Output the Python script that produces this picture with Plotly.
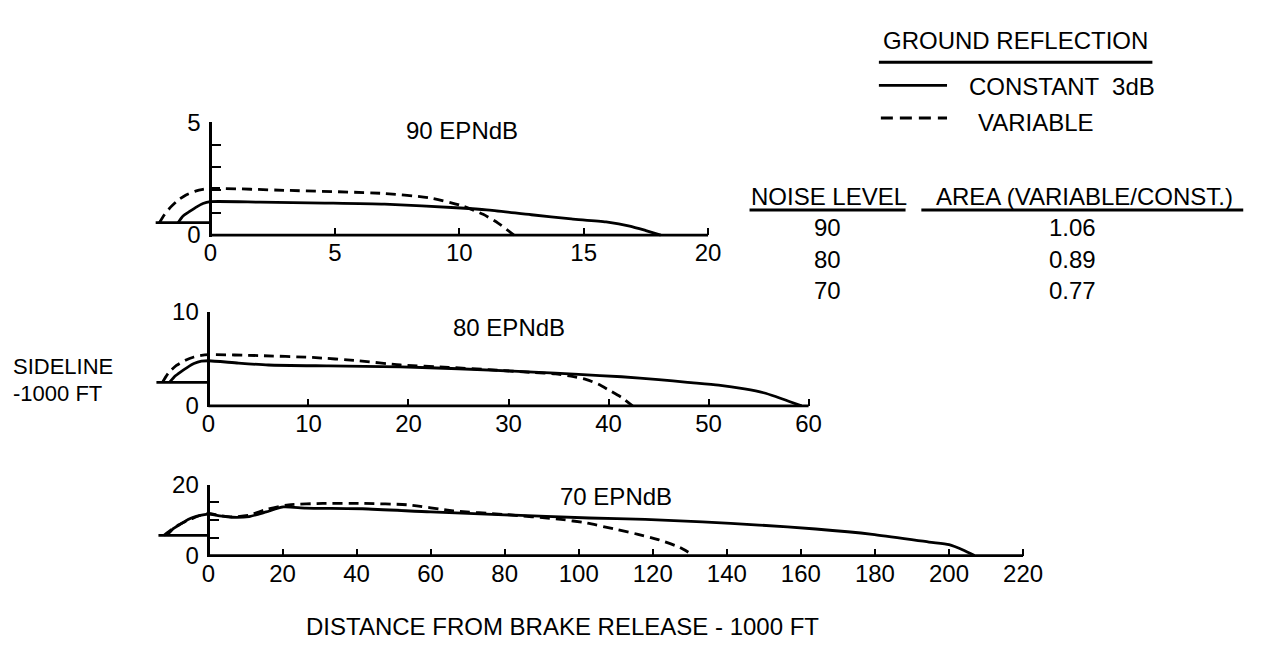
import plotly.graph_objects as go

W, H = 1270, 646
FONT = "Liberation Sans"

# ---------------- data (1000 ft) ----------------
# 90 EPNdB
p90_const_x = [-1.3, -1.1, -0.83, -0.55, -0.3, 0, 2, 4.6, 7, 10.05, 11.1, 12.9, 14.5, 15.9, 16.85, 17.5, 18.1]
p90_const_y = [0.55, 0.85, 1.05, 1.25, 1.4, 1.48, 1.46, 1.42, 1.37, 1.2, 1.12, 0.9, 0.72, 0.58, 0.40, 0.2, 0]
p90_var_x = [-2.05, -1.85, -1.59, -1.3, -0.98, -0.6, -0.3, 0, 3.1, 6.9, 8.8, 10.05, 10.96, 11.56, 12.2]
p90_var_y = [0.55, 0.9, 1.25, 1.55, 1.78, 1.95, 2.03, 2.07, 1.98, 1.85, 1.65, 1.32, 0.92, 0.53, 0]
p90_base_x = [-2.2, 0]
p90_base_y = [0.55, 0.55]

# 80 EPNdB
p80_const_x = [-3.9, -3.3, -2.8, -2.1, -1.45, -0.7, 0, 3, 6, 12, 19.2, 25, 32.5, 37, 41.3, 45, 47.9, 51, 53.6, 55.5, 56.7, 58, 59.3]
p80_const_y = [2.5, 3.2, 3.6, 4.1, 4.5, 4.75, 4.8, 4.55, 4.35, 4.25, 4.15, 3.95, 3.6, 3.35, 3.1, 2.8, 2.5, 2.2, 1.8, 1.4, 1.0, 0.5, 0]
p80_var_x = [-4.6, -4.0, -3.2, -2.3, -1.45, -0.7, 0, 5, 10.4, 15, 19.2, 24, 28, 32.5, 34.7, 36.5, 37.8, 39, 40, 41.3, 42.4]
p80_var_y = [2.5, 3.5, 4.3, 4.85, 5.2, 5.38, 5.45, 5.35, 5.15, 4.8, 4.35, 4.1, 3.85, 3.55, 3.4, 3.1, 2.8, 2.3, 1.7, 0.9, 0]
p80_base_x = [-5.2, 0]
p80_base_y = [2.5, 2.5]

# 70 EPNdB
p70_const_x = [-11.2, -9.5, -7.3, -5.5, -3.5, -1.5, 0, 3, 6.4, 11, 15.6, 20.2, 26.3, 41.6, 60, 79.9, 102.8, 118, 133.4, 148.7, 164, 179.3, 194.6, 200, 203.8, 206.9]
p70_const_y = [5.7, 7.6, 9.0, 10.2, 11.0, 11.5, 11.7, 11.2, 10.8, 11.0, 12.3, 13.7, 13.4, 13.2, 12.3, 11.5, 10.6, 10.2, 9.5, 8.6, 7.5, 6.0, 3.8, 3.1, 1.6, 0]
p70_var_x = [-12, -10, -8.1, -6, -4.3, -2, 0, 3, 6.4, 11, 15.6, 21.7, 30.9, 41.6, 53.9, 66.1, 79.9, 95.2, 102, 110.5, 116, 121.2, 127.3, 131.1]
p70_var_y = [5.7, 7.3, 8.6, 9.7, 10.5, 11.4, 11.9, 11.3, 10.9, 11.4, 13.0, 14.3, 14.7, 14.7, 14.3, 12.6, 11.6, 10.2, 9.2, 7.3, 6.0, 4.6, 2.3, 0]
p70_base_x = [-13.5, 0]
p70_base_y = [5.7, 5.7]

# ticks
p90_xticks = [0, 5, 10, 15, 20]
p90_yticks = [0, 1, 2, 3, 4, 5]
p90_ylabels = ["0", "", "", "", "", "5"]
p80_xticks = [0, 10, 20, 30, 40, 50, 60]
p80_yticks = [0, 10]
p80_ylabels = ["0", "10"]
p70_xticks = [0, 20, 40, 60, 80, 100, 120, 140, 160, 180, 200, 220]
p70_yticks = [0, 5, 10, 15, 20]
p70_ylabels = ["0", "", "", "", "20"]

panel_titles = ["90 EPNdB", "80 EPNdB", "70 EPNdB"]
noise_levels = ["90", "80", "70"]
area_ratios = ["1.06", "0.89", "0.77"]

# ---------------- layout geometry (pixels) ----------------
def fx(p):
    return p / W

def fy(p):
    return 1 - p / H

panels = [
    dict(x0=205, xs=25.2, xr=[-2.6, 20.4], xend=20, y0=222, ys=23.5, yr=[-0.08, 5.0],
         xt=p90_xticks, yt=p90_yticks, yl=p90_ylabels,
         c=(p90_const_x, p90_const_y), v=(p90_var_x, p90_var_y), b=(p90_base_x, p90_base_y),
         title=panel_titles[0], tpos=(460, 113)),
    dict(x0=203, xs=10.13, xr=[-5.6, 60.4], xend=60, y0=400, ys=9.8, yr=[-0.15, 10.0],
         xt=p80_xticks, yt=p80_yticks, yl=p80_ylabels,
         c=(p80_const_x, p80_const_y), v=(p80_var_x, p80_var_y), b=(p80_base_x, p80_base_y),
         title=panel_titles[1], tpos=(507, 318)),
    dict(x0=203, xs=3.75, xr=[-14.5, 221], xend=220, y0=556, ys=3.7, yr=[-0.4, 20.0],
         xt=p70_xticks, yt=p70_yticks, yl=p70_ylabels,
         c=(p70_const_x, p70_const_y), v=(p70_var_x, p70_var_y), b=(p70_base_x, p70_base_y),
         title=panel_titles[2], tpos=(616, 494)),
]

fig = go.Figure()
shapes = []
annotations = []
tickfont = dict(family=FONT, size=24, color="black")
LW = 2.8

for i, p in enumerate(panels, start=1):
    sfx = "" if i == 1 else str(i)
    xa, ya = "x" + sfx, "y" + sfx
    left_px = p["x0"] + p["xs"] * p["xr"][0]
    right_px = p["x0"] + p["xs"] * p["xr"][1]
    bot_px = p["y0"] - p["ys"] * p["yr"][0]
    top_px = p["y0"] - p["ys"] * p["yr"][1]
    fig.update_layout(**{
        "xaxis" + sfx: dict(domain=[fx(left_px), fx(right_px)], range=p["xr"], anchor="free",
                            position=fy(p["y0"]), showline=False, showgrid=False, zeroline=False,
                            ticks="inside", ticklen=7, tickwidth=2.2, tickcolor="black",
                            tickvals=p["xt"], ticktext=[str(t) for t in p["xt"]],
                            tickfont=tickfont, ticklabelstandoff=1, fixedrange=True),
        "yaxis" + sfx: dict(domain=[fy(bot_px), fy(top_px)], range=p["yr"], anchor="free",
                            position=fx(p["x0"]), showline=True, linewidth=LW, linecolor="black",
                            showgrid=False, zeroline=False, ticks="inside", ticklen=9,
                            tickwidth=2.2, tickcolor="black", tickvals=p["yt"], ticktext=p["yl"],
                            tickfont=tickfont, ticklabelstandoff=4, fixedrange=True),
    })
    fig.add_trace(go.Scatter(x=p["c"][0], y=p["c"][1], xaxis=xa, yaxis=ya, mode="lines",
                             line=dict(color="black", width=LW, shape="spline", smoothing=0.6),
                             showlegend=False, hoverinfo="skip"))
    fig.add_trace(go.Scatter(x=p["v"][0], y=p["v"][1], xaxis=xa, yaxis=ya, mode="lines",
                             line=dict(color="black", width=LW, dash="10px,6px", shape="spline", smoothing=0.6),
                             showlegend=False, hoverinfo="skip"))
    fig.add_trace(go.Scatter(x=p["b"][0], y=p["b"][1], xaxis=xa, yaxis=ya, mode="lines",
                             line=dict(color="black", width=LW), showlegend=False, hoverinfo="skip"))
    # x-axis baseline from 0 to end
    shapes.append(dict(type="line", xref=xa, yref="paper", x0=0, x1=p["xend"],
                       y0=fy(p["y0"]), y1=fy(p["y0"]), line=dict(color="black", width=LW)))
    annotations.append(dict(text=p["title"], x=fx(p["tpos"][0]), y=fy(p["tpos"][1]),
                            xref="paper", yref="paper", showarrow=False,
                            font=dict(family=FONT, size=24, color="black"),
                            xanchor="center", yanchor="middle"))

txt = dict(family=FONT, size=24, color="black")

def note(text, xpx, ypx, xanchor="center", size=24):
    annotations.append(dict(text=text, x=fx(xpx), y=fy(ypx), xref="paper", yref="paper",
                            showarrow=False, font=dict(family=FONT, size=size, color="black"),
                            xanchor=xanchor, yanchor="middle"))

def hline(x0, x1, ypx, width=2.6, dash=None):
    ln = dict(color="black", width=width)
    if dash:
        ln["dash"] = dash
    shapes.append(dict(type="line", xref="paper", yref="paper", x0=fx(x0), x1=fx(x1),
                       y0=fy(ypx), y1=fy(ypx), line=ln))

# legend block
note("GROUND REFLECTION", 1020, 19)
hline(882, 1159, 42, width=3)
hline(882, 951, 66, width=2.8)
note("CONSTANT  3dB", 971, 67, xanchor="left")
hline(884, 951, 100, width=2.8, dash="12px,7px")
note("VARIABLE", 980, 105, xanchor="left")

# table
note("NOISE LEVEL", 831, 182)
hline(751, 909, 196, width=3)
note("AREA (VARIABLE/CONST.)", 1090, 182)
hline(925, 1251, 196, width=3)
for k, (nl, ar) in enumerate(zip(noise_levels, area_ratios)):
    note(nl, 830, 214 + 33 * k)
    note(ar, 1078, 214 + 33 * k)

# axis titles
note("SIDELINE", 3, 359, xanchor="left", size=22)
note("-1000 FT", 3, 387, xanchor="left", size=22)
note("DISTANCE FROM BRAKE RELEASE - 1000 FT", 562, 630)

fig.update_layout(width=W, height=H, margin=dict(l=0, r=0, t=0, b=0),
                  paper_bgcolor="white", plot_bgcolor="rgba(0,0,0,0)",
                  shapes=shapes, annotations=annotations, showlegend=False)

fig.write_html("out.html")
